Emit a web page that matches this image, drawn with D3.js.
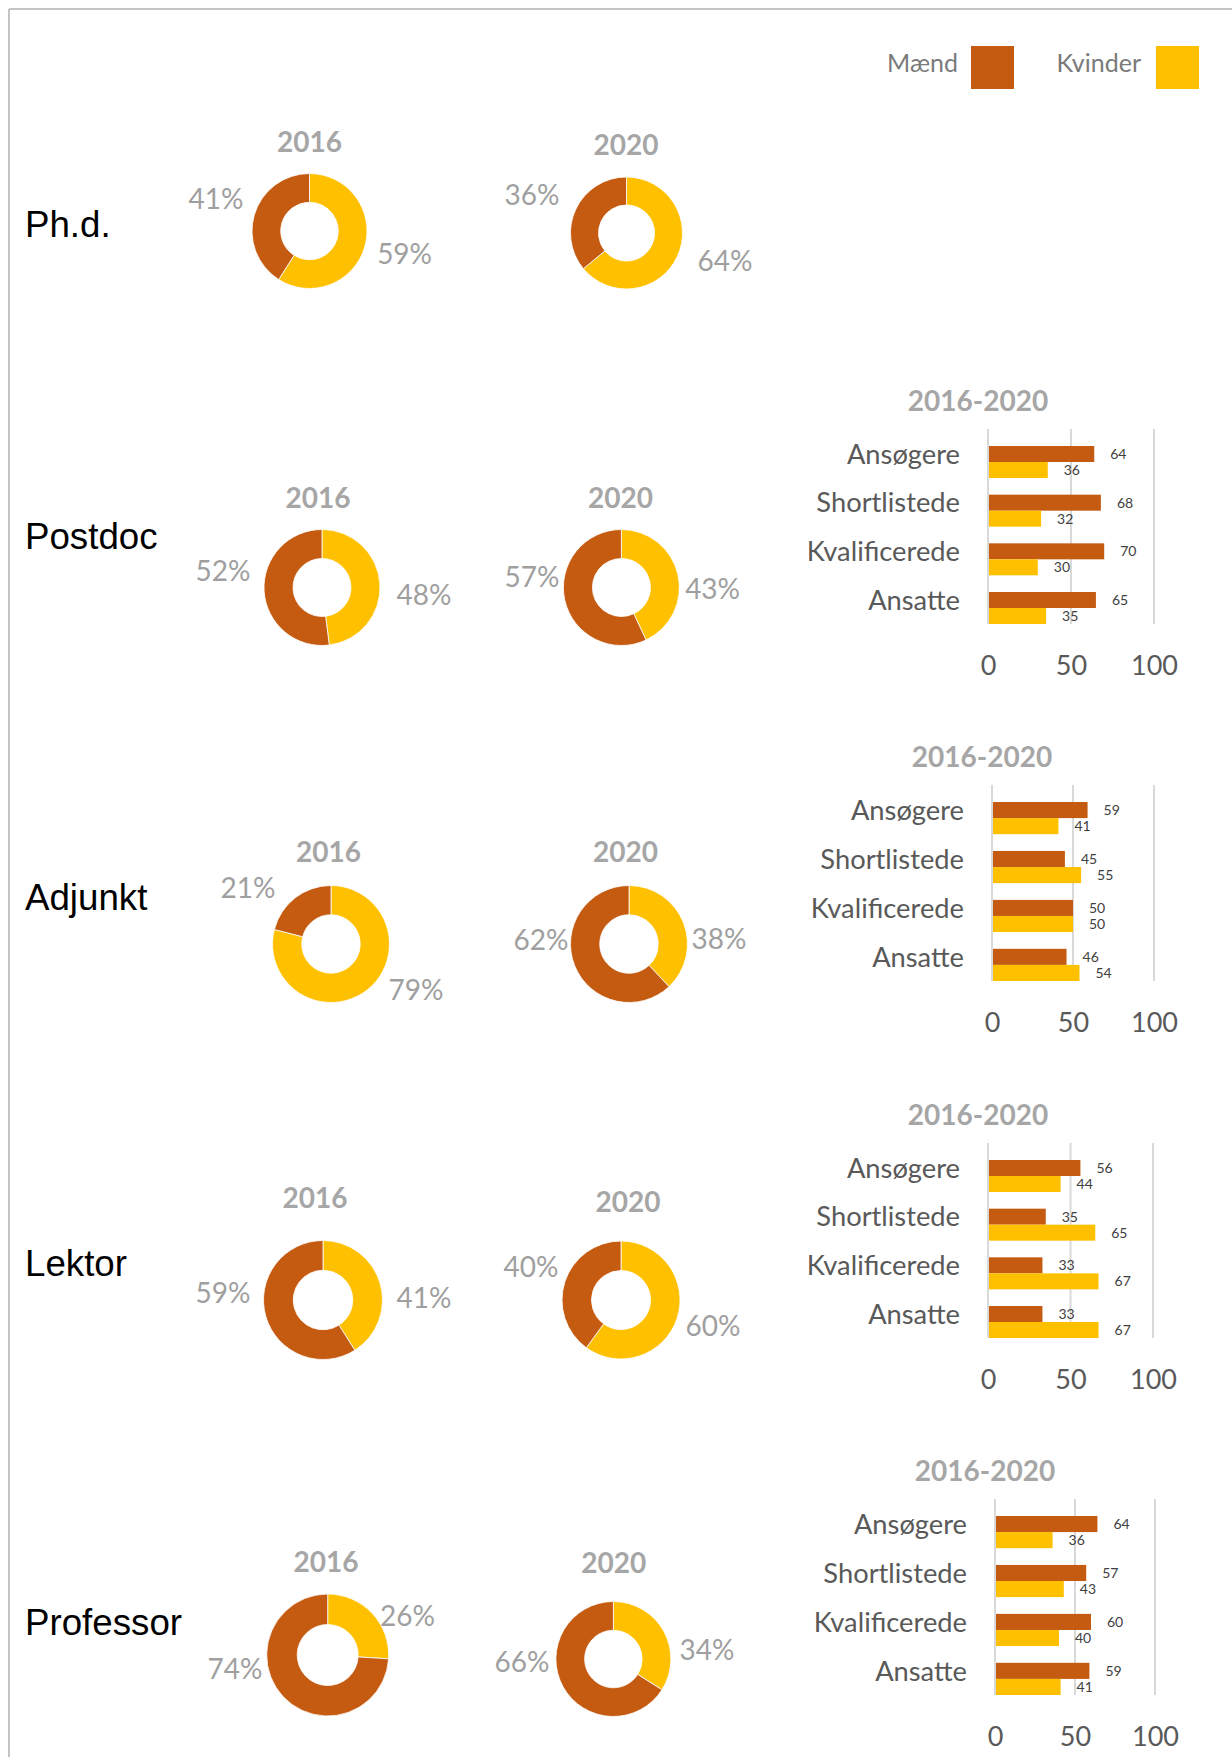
<!DOCTYPE html>
<html><head><meta charset="utf-8">
<script src="https://cdn.jsdelivr.net/npm/d3@7"></script>
<style>body{margin:0;background:#fff}svg{display:block}</style>
</head><body>
<script>
// ---------- DATA ----------
const positions = ["Ph.d.", "Postdoc", "Adjunkt", "Lektor", "Professor"];
const years = ["2016", "2020"];
const seriesNames = ["Mænd", "Kvinder"];
const maend2016 = [41, 52, 21, 59, 74];
const kvinder2016 = [59, 48, 79, 41, 26];
const maend2020 = [36, 57, 62, 40, 66];
const kvinder2020 = [64, 43, 38, 60, 34];

const categories = ["Ansøgere", "Shortlistede", "Kvalificerede", "Ansatte"];
const barPositions = ["Postdoc", "Adjunkt", "Lektor", "Professor"];
const maendPostdoc = [64, 68, 70, 65];
const kvinderPostdoc = [36, 32, 30, 35];
const maendAdjunkt = [59, 45, 50, 46];
const kvinderAdjunkt = [41, 55, 50, 54];
const maendLektor = [56, 35, 33, 33];
const kvinderLektor = [44, 65, 67, 67];
const maendProfessor = [64, 57, 60, 59];
const kvinderProfessor = [36, 43, 40, 41];
const tickValues = [0, 50, 100];
const barTitle = "2016-2020";

// ---------- STYLE / LAYOUT ----------
const W = 1232, H = 1757;
const colors = { "Mænd": "#C55A11", "Kvinder": "#FFC000" };
const FONT = "Lato, 'Open Sans', sans-serif";
const ARIAL = "'Liberation Sans', Arial, sans-serif";
const CAP = 0.716;

const rowLabelBaseline = [237, 548.5, 910, 1276, 1635];
// per row, per year: donut centre, radius, title centre, label positions (Mænd, Kvinder)
const donutLayout = [
  [{cx:309.5, cy:231, r:57.5, tx:309.5, ty:142, lm:[216,199], lk:[404.6,254]},
   {cx:626.5, cy:233, r:56,   tx:626,   ty:144.5, lm:[532,195], lk:[725,261]}],
  [{cx:322, cy:587.5, r:58, tx:318, ty:498, lm:[223,571], lk:[424,595]},
   {cx:621.4, cy:587.5, r:58, tx:620.6, ty:498, lm:[532,576.7], lk:[712.6,588.5]}],
  [{cx:331, cy:944, r:58.5, tx:328.6, ty:851.7, lm:[248,888], lk:[416,990]},
   {cx:629, cy:944, r:58.5, tx:625.4, ty:851.7, lm:[541,940], lk:[719,939]}],
  [{cx:323, cy:1300, r:59.5, tx:315, ty:1198, lm:[223,1292.5], lk:[424,1298]},
   {cx:621, cy:1300, r:59, tx:628, ty:1202, lm:[531,1267], lk:[713,1326]}],
  [{cx:327.7, cy:1655, r:61, tx:326, ty:1561.7, lm:[235,1668.7], lk:[407.5,1616]},
   {cx:613.4, cy:1659, r:57.5, tx:613.7, ty:1563, lm:[522,1661.7], lk:[707,1650]}]
];
const barLayout = [
  {x0:988, x1:1154, top:446, bottom:624, labelRight:960},
  {x0:992, x1:1154, top:802, bottom:981, labelRight:964},
  {x0:988, x1:1153, top:1160, bottom:1338, labelRight:960},
  {x0:995, x1:1155, top:1516, bottom:1695, labelRight:967}
];

const svg = d3.select("body").append("svg").attr("width", W).attr("height", H);
svg.append("rect").attr("width", W).attr("height", H).attr("fill", "#fff");

// frame
svg.append("line").attr("x1", 9).attr("y1", 9).attr("x2", W).attr("y2", 9)
  .attr("stroke", "#c4c4c4").attr("stroke-width", 2);
svg.append("line").attr("x1", 9).attr("y1", 9).attr("x2", 9).attr("y2", H)
  .attr("stroke", "#c4c4c4").attr("stroke-width", 2);

function capText(g, x, yc, size, txt, opts = {}) {
  return g.append("text").attr("x", x).attr("y", yc + size * CAP / 2)
    .attr("font-family", opts.family || FONT).attr("font-size", size)
    .attr("font-weight", opts.weight || 400).attr("fill", opts.fill || "#595959")
    .attr("text-anchor", opts.anchor || "middle").text(txt);
}

// legend
const legend = [
  { name: seriesNames[0], textRight: 958, sx: 971 },
  { name: seriesNames[1], textRight: 1141, sx: 1156 }
];
legend.forEach(l => {
  svg.append("rect").attr("x", l.sx).attr("y", 46).attr("width", 43).attr("height", 43)
    .attr("fill", colors[l.name]);
  svg.append("text").attr("x", l.textRight).attr("y", 72).attr("text-anchor", "end")
    .attr("font-family", FONT).attr("font-size", 25).attr("fill", "#7a7a7a").text(l.name);
});

// row labels
positions.forEach((p, i) => {
  svg.append("text").attr("x", 25).attr("y", rowLabelBaseline[i])
    .attr("font-family", ARIAL).attr("font-size", 36.7).attr("fill", "#000").text(p);
});

// donuts
const pie = d3.pie().sort(null).value(d => d.v);
const donutData = [
  positions.map((p, i) => [{ s: "Kvinder", v: kvinder2016[i] }, { s: "Mænd", v: maend2016[i] }]),
  positions.map((p, i) => [{ s: "Kvinder", v: kvinder2020[i] }, { s: "Mænd", v: maend2020[i] }])
];
positions.forEach((p, i) => {
  years.forEach((yr, j) => {
    const L = donutLayout[i][j];
    const arc = d3.arc().innerRadius(L.r * 0.5).outerRadius(L.r);
    const g = svg.append("g").attr("transform", `translate(${L.cx},${L.cy})`);
    const arcs = pie(donutData[j][i]);
    g.selectAll("path").data(arcs).join("path")
      .attr("d", arc).attr("fill", d => colors[d.data.s])
      .attr("stroke", "#fff").attr("stroke-width", 0.8);
    capText(svg, L.tx, L.ty, 28, yr, { weight: 700, fill: "#a6a6a6" });
    arcs.forEach(a => {
      const pos = a.data.s === "Mænd" ? L.lm : L.lk;
      capText(svg, pos[0], pos[1], 28, a.data.v + "%", { fill: "#9f9f9f" });
    });
  });
});

// bar charts
const barData = [
  [maendPostdoc, kvinderPostdoc],
  [maendAdjunkt, kvinderAdjunkt],
  [maendLektor, kvinderLektor],
  [maendProfessor, kvinderProfessor]
];
barPositions.forEach((bp, k) => {
  const L = barLayout[k];
  const [mv, kv] = barData[k];
  const x = d3.scaleLinear().domain([0, 100]).range([L.x0, L.x1]);
  const y = d3.scaleBand().domain(categories).range([L.top, L.bottom]).paddingInner(0.3425).paddingOuter(0);
  const ys = d3.scaleBand().domain(seriesNames).range([0, y.bandwidth()]);
  const g = svg.append("g");
  const gridTop = L.top - 17;

  // gridlines
  g.selectAll("line.grid").data(tickValues).join("line").attr("class", "grid")
    .attr("x1", d => x(d)).attr("x2", d => x(d)).attr("y1", gridTop).attr("y2", L.bottom)
    .attr("stroke", "#d9d9d9").attr("stroke-width", 2);

  // title
  capText(g, L.x0 - 10, L.top - 45, 28, barTitle, { weight: 700, fill: "#a6a6a6" });

  // bottom axis labels
  const axis = d3.axisBottom(x).tickValues(tickValues).tickSize(0).tickPadding(0);
  const ag = g.append("g").attr("transform", `translate(0,${L.bottom})`).call(axis);
  ag.select(".domain").remove();
  ag.selectAll("text").attr("font-family", FONT).attr("font-size", 27).attr("fill", "#595959")
    .attr("dy", null).attr("y", 41 + 27 * CAP / 2);

  // category labels
  categories.forEach((c, i) => {
    capText(g, L.labelRight, y(c) + ys.bandwidth() / 2, 27.3, c, { anchor: "end", fill: "#595959" });
  });

  const rows = [];
  categories.forEach((c, i) => {
    rows.push({ c, s: "Mænd", v: mv[i] });
    rows.push({ c, s: "Kvinder", v: kv[i] });
  });
  g.selectAll("rect.bar").data(rows).join("rect").attr("class", "bar")
    .attr("x", x(0) + 1).attr("y", d => y(d.c) + ys(d.s))
    .attr("width", d => x(d.v) - x(0) - 1).attr("height", ys.bandwidth())
    .attr("fill", d => colors[d.s]);
  rows.forEach(d => {
    capText(g, x(d.v) + 16, y(d.c) + ys(d.s) + ys.bandwidth() / 2, 14, d.v,
      { anchor: "start", fill: "#404040" });
  });
});
</script>
</body></html>
